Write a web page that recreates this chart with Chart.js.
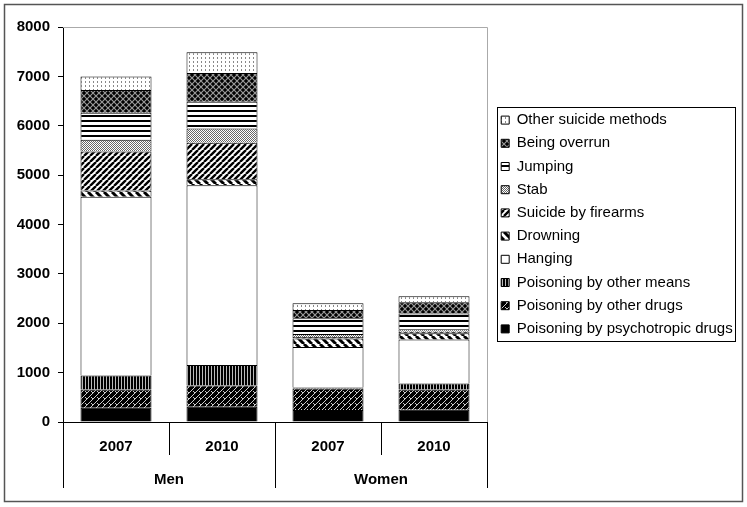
<!DOCTYPE html>
<html>
<head>
<meta charset="utf-8">
<script src="https://cdn.jsdelivr.net/npm/chart.js@4/dist/chart.umd.min.js"></script>
<style>
  html, body { margin: 0; padding: 0; background: #fff; }
  canvas { display: block; }
</style>
</head>
<body>
<canvas id="chart" width="747" height="507"></canvas>
<script>
// categories
const years = ['2007', '2010', '2007', '2010'];
const groups = ['Men', 'Women'];

// series values (bottom to top of each stack)
const psychotropic = [290, 310, 245, 250];
const otherDrugs   = [370, 430, 435, 410];
const otherMeans   = [280, 415, 20, 120];
const hanging      = [3620, 3640, 820, 890];
const drowning     = [130, 120, 170, 130];
const firearms     = [790, 740, 30, 30];
const stab         = [235, 290, 60, 50];
const jumping      = [550, 540, 320, 320];
const overrun      = [460, 585, 170, 225];
const otherMethods = [270, 420, 135, 120];

const yTicks = [0, 1000, 2000, 3000, 4000, 5000, 6000, 7000, 8000];

const FONT = "'Liberation Sans', Arial, sans-serif";

function makePattern(w, h, draw) {
    const c = document.createElement('canvas');
    c.width = w; c.height = h;
    const g = c.getContext('2d');
    draw(g, w, h);
    return g.createPattern(c, 'repeat');
}

const pat = {
    psychotropic: '#000',
    otherDrugs: makePattern(6, 6, (g, w, h) => {
        g.fillStyle = '#000'; g.fillRect(0, 0, w, h);
        g.strokeStyle = '#ccc'; g.lineWidth = 1;
        g.beginPath();
        g.moveTo(0, 6); g.lineTo(6, 0);
        g.moveTo(1, 1); g.lineTo(3, 3);
        g.stroke();
    }),
    otherMeans: makePattern(3, 3, (g, w, h) => {
        g.fillStyle = '#000'; g.fillRect(0, 0, w, h);
        g.fillStyle = '#bbb'; g.fillRect(1, 0, 1, h);
    }),
    hanging: '#fff',
    drowning: makePattern(8, 8, (g, w, h) => {
        g.fillStyle = '#fff'; g.fillRect(0, 0, w, h);
        g.strokeStyle = '#000'; g.lineWidth = 3;
        g.beginPath();
        for (let i = -1; i <= 1; i++) { g.moveTo(i * w, 0); g.lineTo(i * w + w, h); }
        g.stroke();
    }),
    firearms: makePattern(6, 6, (g, w, h) => {
        g.fillStyle = '#fff'; g.fillRect(0, 0, w, h);
        g.strokeStyle = '#000'; g.lineWidth = 2.4;
        g.beginPath();
        for (let i = -1; i <= 1; i++) { g.moveTo(i * w, h); g.lineTo(i * w + w, 0); }
        g.stroke();
    }),
    stab: makePattern(2, 2, (g, w, h) => {
        g.fillStyle = '#fff'; g.fillRect(0, 0, w, h);
        g.fillStyle = '#666'; g.fillRect(0, 0, 1, 1); g.fillRect(1, 1, 1, 1);
    }),
    jumping: makePattern(5, 5, (g, w, h) => {
        g.fillStyle = '#fff'; g.fillRect(0, 0, w, h);
        g.fillStyle = '#000'; g.fillRect(0, 0, w, 2);
    }),
    overrun: makePattern(6, 6, (g, w, h) => {
        g.fillStyle = '#000'; g.fillRect(0, 0, w, h);
        g.strokeStyle = '#999'; g.lineWidth = 1.2;
        g.beginPath();
        g.moveTo(0, 0); g.lineTo(6, 6);
        g.moveTo(0, 6); g.lineTo(6, 0);
        g.stroke();
    }),
    otherMethods: makePattern(4, 4, (g, w, h) => {
        g.fillStyle = '#fff'; g.fillRect(0, 0, w, h);
        g.fillStyle = '#888'; g.fillRect(1, 1, 1, 2);
    })
};

function ds(label, data, bg) {
    return {
        label: label,
        data: data,
        backgroundColor: bg,
        borderColor: '#000',
        borderWidth: 1,
        barPercentage: 0.67,
        categoryPercentage: 1.0
    };
}

// the layout caps a side legend at a fraction of the width, so force it
const legendWidthPlugin = {
    id: 'legendWidth',
    beforeLayout(chart) {
        const lg = chart.legend;
        if (lg && !lg._patched) {
            const fit = lg.fit;
            lg.fit = function () { fit.call(this); this.width = 247; };
            lg._patched = true;
        }
    }
};

const framePlugin = {
    id: 'frame',
    afterDraw(chart) {
        const ctx = chart.ctx;
        const a = chart.chartArea;
        const x = chart.scales.x;
        ctx.save();
        // outer border
        ctx.strokeStyle = '#555';
        ctx.lineWidth = 1.5;
        ctx.strokeRect(4.5, 4.5, 738, 497);
        // plot frame top/right
        ctx.strokeStyle = '#aaa';
        ctx.lineWidth = 1;
        ctx.beginPath();
        ctx.moveTo(a.left, a.top + 0.5); ctx.lineTo(a.right + 0.5, a.top + 0.5);
        ctx.lineTo(a.right + 0.5, a.bottom);
        ctx.stroke();
        // category separators
        ctx.strokeStyle = '#000';
        ctx.beginPath();
        const step = (a.right - a.left) / years.length;
        for (let i = 0; i <= years.length; i++) {
            const px = Math.round(a.left + i * step) + 0.5;
            const len = (i % 2 === 0) ? 66 : 33;
            ctx.moveTo(px, a.bottom); ctx.lineTo(px, a.bottom + len);
        }
        ctx.stroke();
        // group labels
        ctx.fillStyle = '#000';
        ctx.font = 'bold 15px ' + FONT;
        ctx.textAlign = 'center';
        ctx.textBaseline = 'middle';
        groups.forEach((g, i) => {
            const cx = (x.getPixelForValue(i * 2) + x.getPixelForValue(i * 2 + 1)) / 2;
            ctx.fillText(g, cx, a.bottom + 58);
        });
        // legend border
        const hb = chart.legend.legendHitBoxes;
        if (hb && hb.length) {
            const top = Math.min(...hb.map(h => h.top));
            const bottom = Math.max(...hb.map(h => h.top + h.height));
            ctx.strokeStyle = '#000';
            ctx.strokeRect(497.5, Math.round(top) - 5.5, 238, Math.round(bottom - top) + 10);
        }
        ctx.restore();
    }
};

new Chart(document.getElementById('chart').getContext('2d'), {
    type: 'bar',
    data: {
        labels: years,
        datasets: [
            ds('Poisoning by psychotropic drugs', psychotropic, pat.psychotropic),
            ds('Poisoning by other drugs', otherDrugs, pat.otherDrugs),
            ds('Poisoning by other means', otherMeans, pat.otherMeans),
            ds('Hanging', hanging, pat.hanging),
            ds('Drowning', drowning, pat.drowning),
            ds('Suicide by firearms', firearms, pat.firearms),
            ds('Stab', stab, pat.stab),
            ds('Jumping', jumping, pat.jumping),
            ds('Being overrun', overrun, pat.overrun),
            ds('Other suicide methods', otherMethods, pat.otherMethods)
        ]
    },
    options: {
        responsive: false,
        animation: false,
        layout: { padding: { top: 27, left: 0, right: 7, bottom: 7 } },
        plugins: {
            tooltip: { enabled: false },
            legend: {
                position: 'right',
                fullSize: false,
                reverse: true,
                labels: {
                    boxWidth: 8,
                    boxHeight: 8,
                    padding: 8.2,
                    color: '#000',
                    font: { family: FONT, size: 15 }
                }
            }
        },
        scales: {
            x: {
                stacked: true,
                grid: { display: false },
                border: { color: '#000', width: 1 },
                ticks: {
                    color: '#000',
                    padding: 8,
                    font: { family: FONT, size: 15, weight: 'bold' }
                },
                afterFit(s) { s.height = 78; }
            },
            y: {
                stacked: true,
                min: 0,
                max: 8000,
                afterBuildTicks(s) { s.ticks = yTicks.map(v => ({ value: v })); },
                grid: { drawOnChartArea: false, tickLength: 5, color: '#000' },
                border: { color: '#000', width: 1 },
                ticks: {
                    color: '#000',
                    padding: 8,
                    callback: v => String(v),
                    font: { family: FONT, size: 15, weight: 'bold' }
                },
                afterFit(s) { s.width = 63; }
            },
            gap: {
                type: 'linear',
                position: 'right',
                display: true,
                grid: { display: false },
                border: { display: false },
                ticks: { display: false },
                afterFit(s) { s.width = 6; }
            }
        }
    },
    plugins: [legendWidthPlugin, framePlugin]
});
</script>
</body>
</html>
